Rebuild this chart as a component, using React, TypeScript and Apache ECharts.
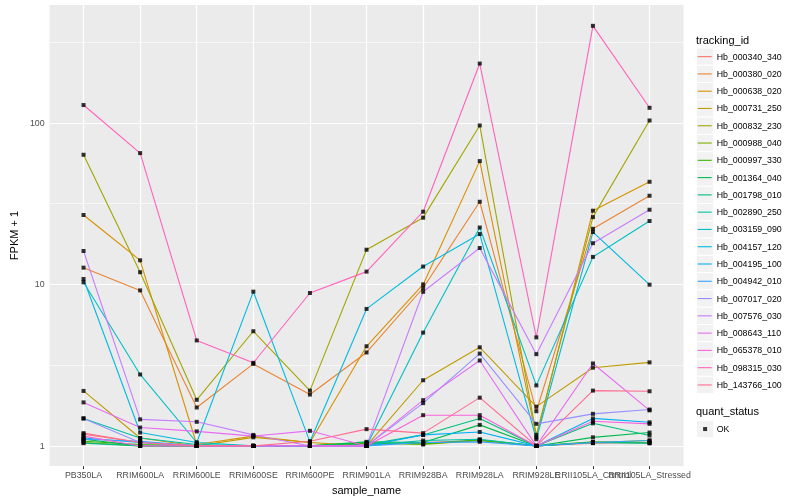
import React, { useEffect, useRef } from 'react';
import * as echarts from 'echarts';

const samples = [
  'PB350LA', 'RRIM600LA', 'RRIM600LE', 'RRIM600SE', 'RRIM600PE', 'RRIM901LA',
  'RRIM928BA', 'RRIM928LA', 'RRIM928LE', 'RRII105LA_Control', 'RRII105LA_Stressed',
];

const trackingIds = [
  'Hb_000340_340', 'Hb_000380_020', 'Hb_000638_020', 'Hb_000731_250', 'Hb_000832_230',
  'Hb_000988_040', 'Hb_000997_330', 'Hb_001364_040', 'Hb_001798_010', 'Hb_002890_250',
  'Hb_003159_090', 'Hb_004157_120', 'Hb_004195_100', 'Hb_004942_010', 'Hb_007017_020',
  'Hb_007576_030', 'Hb_008643_110', 'Hb_065378_010', 'Hb_098315_030', 'Hb_143766_100',
];

const colors = [
  '#F8766D', '#EA8331', '#D89000', '#C09B00', '#A3A500', '#7CAE00', '#39B600', '#00BB4E',
  '#00BF7D', '#00C1A3', '#00BFC4', '#00BAE0', '#00B0F6', '#35A2FF', '#9590FF', '#C77CFF',
  '#E76BF3', '#FA62DB', '#FF62BC', '#FF6C91',
];

// FPKM + 1 per sample, one array per tracking_id
const hb000340 = [1.18, 1.05, 1.0, 1.0, 1.0, 1.02, 1.05, 1.08, 1.0, 1.04, 1.05];
const hb000380 = [12.7, 9.18, 1.73, 3.22, 2.08, 3.79, 9.5, 32.5, 1.64, 22.1, 35.4];
const hb000638 = [26.9, 14.1, 1.02, 1.15, 1.05, 4.14, 10.0, 58.0, 1.13, 28.6, 43.2];
const hb000731 = [2.19, 1.12, 1.0, 1.13, 1.05, 1.0, 2.55, 4.08, 1.75, 3.05, 3.29];
const hb000832 = [63.5, 11.9, 1.93, 5.13, 2.2, 16.4, 25.9, 96.4, 1.17, 26.1, 103.5];
const hb000988 = [1.05, 1.0, 1.0, 1.0, 1.0, 1.05, 1.02, 1.08, 1.0, 1.05, 1.08];
const hb000997 = [1.07, 1.02, 1.0, 1.0, 1.0, 1.04, 1.03, 1.09, 1.0, 1.06, 1.04];
const hb001364 = [1.1, 1.0, 1.0, 1.0, 1.0, 1.06, 1.05, 1.35, 1.0, 1.13, 1.21];
const hb001798 = [1.04, 1.0, 1.0, 1.0, 1.0, 1.02, 1.17, 1.48, 1.0, 1.38, 1.16];
const hb002890 = [1.48, 1.12, 1.02, 1.0, 1.0, 1.0, 1.08, 1.1, 1.0, 1.05, 1.04];
const hb003159 = [10.3, 2.77, 1.05, 1.0, 1.0, 1.0, 5.03, 22.5, 2.37, 14.8, 24.7];
const hb004157 = [10.8, 1.21, 1.05, 9.02, 1.06, 7.05, 12.9, 20.5, 1.1, 21.1, 9.96];
const hb004195 = [1.12, 1.05, 1.0, 1.0, 1.0, 1.0, 1.17, 1.22, 1.0, 1.48, 1.4];
const hb004942 = [1.1, 1.07, 1.0, 1.0, 1.0, 1.0, 1.05, 1.06, 1.0, 1.05, 1.08];
const hb007017 = [1.48, 1.05, 1.0, 1.0, 1.0, 1.0, 1.84, 3.73, 1.37, 1.58, 1.68];
const hb007576 = [16.1, 1.46, 1.41, 1.17, 1.0, 1.0, 9.0, 16.8, 3.7, 18.0, 29.0];
const hb008643 = [1.86, 1.3, 1.23, 1.15, 1.24, 1.0, 1.92, 3.38, 1.0, 3.24, 1.66];
const hb065378 = [1.15, 1.0, 1.0, 1.0, 1.0, 1.0, 1.55, 1.55, 1.0, 1.42, 1.37];
const hb098315 = [129, 65, 4.5, 3.27, 8.85, 12.0, 28.2, 233, 4.7, 399, 124];
const hb143766 = [1.2, 1.05, 1.0, 1.0, 1.07, 1.27, 1.2, 1.99, 1.0, 2.2, 2.18];

const seriesValues = [
  hb000340, hb000380, hb000638, hb000731, hb000832, hb000988, hb000997, hb001364,
  hb001798, hb002890, hb003159, hb004157, hb004195, hb004942, hb007017, hb007576,
  hb008643, hb065378, hb098315, hb143766,
];

const yMajor = [1, 10, 100];
const yMinor = [3.1623, 31.623, 316.23];
const quantStatus = ['OK'];

const FONT = '"Liberation Sans", Arial, Helvetica, sans-serif';

export default function App() {
  const ref = useRef<HTMLDivElement>(null);
  useEffect(() => {
    if (!ref.current) return;
    const chart = echarts.init(ref.current, undefined, { renderer: 'svg' });
    const xIdx = samples.map((_, i) => i);
    // labels split over two bottom axes so that overlapping neighbours are both kept
    const xIdxMain = xIdx.filter((i) => i % 2 === 0);
    const xIdxAlt = xIdx.filter((i) => i % 2 === 1);

    const lineSeries = seriesValues.map((vals, k) => ({
      type: 'line',
      name: trackingIds[k],
      color: colors[k],
      data: vals.map((v, i) => [i, v]),
      showSymbol: false,
      symbol: 'none',
      lineStyle: { width: 1.1, color: colors[k] },
      silent: true,
      z: 2,
      emphasis: { disabled: true },
    }));

    const allPoints: number[][] = [];
    seriesValues.forEach((vals) => vals.forEach((v, i) => allPoints.push([i, v])));

    const legendTop = 48;
    const keySize = 17.28;
    const keyBg: any[] = trackingIds.map((_, k) => ({
      type: 'rect',
      shape: { x: 696.4, y: legendTop + k * keySize, width: keySize, height: keySize },
      style: { fill: '#F2F2F2', stroke: '#FFFFFF', lineWidth: 1 },
      z: -1,
    }));
    keyBg.push({
      type: 'rect',
      shape: { x: 696.4, y: 420.4, width: keySize, height: keySize },
      style: { fill: '#F2F2F2', stroke: '#FFFFFF', lineWidth: 1 },
      z: -1,
    });

    const xLabelBase = {
      margin: 4, fontSize: 8.8, color: '#4D4D4D', fontFamily: FONT,
      hideOverlap: false, showMinLabel: true, showMaxLabel: true,
      formatter: (v: number) => samples[Math.round(v)] ?? '',
    };

    const option: any = {
      animation: false,
      textStyle: { fontFamily: FONT },
      grid: {
        left: 39.5, right: 116.5, top: 5, bottom: 32,
        show: true, backgroundColor: '#EBEBEB', borderWidth: 0,
        containLabel: false,
      },
      title: [
        { text: 'tracking_id', left: 696, top: 34, padding: 0,
          textStyle: { fontSize: 11, fontWeight: 'normal', color: '#000', fontFamily: FONT } },
        { text: 'quant_status', left: 696, top: 405.8, padding: 0,
          textStyle: { fontSize: 11, fontWeight: 'normal', color: '#000', fontFamily: FONT } },
      ],
      xAxis: [
        {
          type: 'value', min: -0.6, max: 10.6, position: 'bottom',
          name: 'sample_name', nameLocation: 'middle', nameGap: 14,
          nameTextStyle: { fontSize: 11, color: '#000', fontFamily: FONT },
          axisLine: { show: false },
          axisTick: { show: true, customValues: xIdx, length: 3, lineStyle: { color: '#333333' } },
          axisLabel: { ...xLabelBase, customValues: xIdxMain },
          splitLine: { show: false },
        },
        {
          type: 'value', min: -0.6, max: 10.6, position: 'bottom', offset: 0,
          axisLine: { show: false },
          axisTick: { show: false },
          axisLabel: { ...xLabelBase, customValues: xIdxAlt },
          splitLine: { show: false },
        },
      ],
      yAxis: {
        type: 'log', logBase: 10, min: 0.75, max: 537,
        name: 'FPKM + 1', nameLocation: 'middle', nameGap: 26,
        nameTextStyle: { fontSize: 11, color: '#000', fontFamily: FONT },
        axisLine: { show: false },
        axisTick: { show: true, customValues: yMajor, length: 3, lineStyle: { color: '#333333' } },
        axisLabel: {
          customValues: yMajor, margin: 5, fontSize: 8.8, color: '#4D4D4D', fontFamily: FONT,
          formatter: (v: number) => String(Math.round(v)),
        },
        splitLine: { show: false },
        minorSplitLine: { show: false },
      },
      legend: [
        {
          data: trackingIds, orient: 'vertical', left: 697.7, top: legendTop,
          itemGap: 0, itemWidth: 14, itemHeight: 1.1, icon: 'rect', padding: 0,
          selectedMode: false,
          textStyle: { fontSize: 8.8, color: '#000', lineHeight: keySize, fontFamily: FONT },
        },
        {
          data: quantStatus, orient: 'vertical', left: 703.1, top: 420.4,
          itemGap: 0, itemWidth: 4, itemHeight: 4, icon: 'rect', padding: 0,
          selectedMode: false,
          textStyle: { fontSize: 8.8, color: '#000', lineHeight: keySize, padding: [0, 0, 0, 4.6], fontFamily: FONT },
        },
      ],
      graphic: keyBg,
      series: [
        {
          type: 'line', name: '__grid', data: [], silent: true, z: 1,
          markLine: {
            silent: true, symbol: ['none', 'none'], z: 1, animation: false,
            label: { show: false },
            emphasis: { disabled: true },
            lineStyle: { color: '#FFFFFF', type: 'solid' },
            data: [
              ...yMinor.map((v) => ({ yAxis: v, lineStyle: { width: 0.6, color: '#FFFFFF', type: 'solid' } })),
              ...yMajor.map((v) => ({ yAxis: v, lineStyle: { width: 1.2, color: '#FFFFFF', type: 'solid' } })),
              ...xIdx.map((v) => ({ xAxis: v, lineStyle: { width: 1.2, color: '#FFFFFF', type: 'solid' } })),
            ],
          },
        },
        ...lineSeries,
        {
          type: 'scatter', name: 'OK', data: allPoints, symbol: 'rect', symbolSize: 4,
          itemStyle: { color: '#000000' }, color: '#000000', silent: true, z: 3,
          emphasis: { disabled: true },
        },
      ],
    };
    chart.setOption(option);
    return () => chart.dispose();
  }, []);
  return <div ref={ref} style={{ position: 'fixed', left: 0, top: 0, width: 800, height: 500 }} />;
}
